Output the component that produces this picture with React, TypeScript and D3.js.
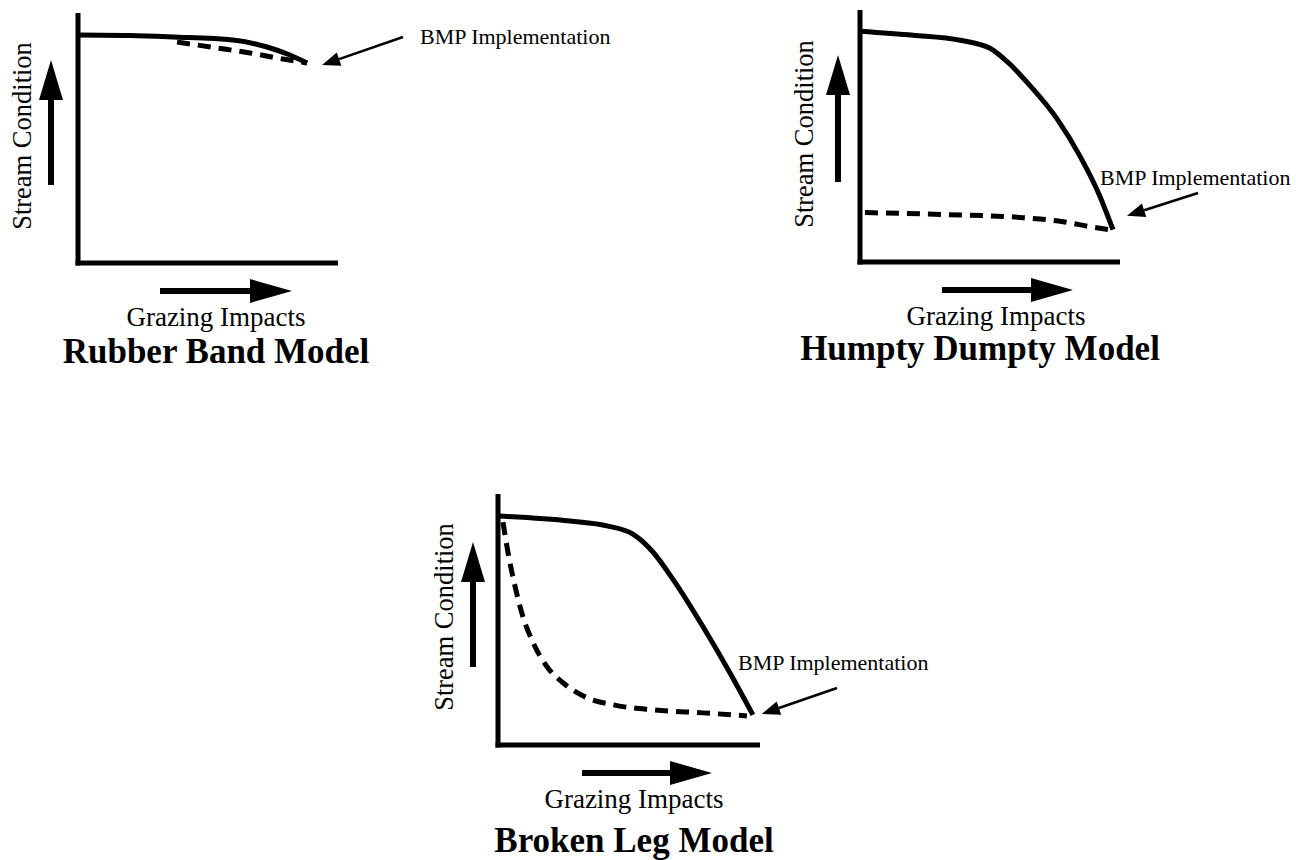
import React from "react";
import * as d3 from "d3";

// ---- text ----
const titles = ["Rubber Band Model", "Humpty Dumpty Model", "Broken Leg Model"];
const xAxisLabel = "Grazing Impacts";
const yAxisLabel = "Stream Condition";
const pointerLabel = "BMP Implementation";

// ---- data (x = grazing impacts 0-10, y = stream condition 0-10) ----
// Rubber Band
const rubberSolidX = [0, 2.0, 3.65, 5.96, 7.27, 8.15, 8.81];
const rubberSolidY = [9.12, 9.1, 9.04, 8.92, 8.64, 8.32, 8.0];
const rubberDashX = [3.81, 5.35, 6.62, 7.88, 8.81];
const rubberDashY = [8.84, 8.6, 8.4, 8.16, 8.0];
// Humpty Dumpty
const humptySolidX = [0, 2.04, 3.85, 5.0, 5.65, 6.54, 7.58, 8.46, 9.23, 9.73];
const humptySolidY = [9.16, 9.0, 8.8, 8.48, 7.96, 7.0, 5.68, 4.2, 2.6, 1.28];
const humptyDashX = [0.19, 3.35, 6.27, 7.81, 8.85, 9.62];
const humptyDashY = [1.96, 1.88, 1.76, 1.6, 1.4, 1.28];
// Broken Leg
const brokenSolidX = [0, 2.75, 4.2, 5.15, 5.92, 6.68, 7.82, 8.85, 9.73];
const brokenSolidY = [9.12, 8.92, 8.72, 8.4, 7.68, 6.6, 4.72, 2.88, 1.2];
const brokenDashX = [0.19, 0.38, 0.65, 0.95, 1.34, 1.87, 2.48, 3.4, 4.39, 5.92, 7.82, 9.5];
const brokenDashY = [8.88, 7.68, 6.32, 5.12, 4.08, 3.12, 2.48, 1.88, 1.6, 1.4, 1.28, 1.16];

const series = [
  { sx: rubberSolidX, sy: rubberSolidY, dx: rubberDashX, dy: rubberDashY },
  { sx: humptySolidX, sy: humptySolidY, dx: humptyDashX, dy: humptyDashY },
  { sx: brokenSolidX, sy: brokenSolidY, dx: brokenDashX, dy: brokenDashY },
];

// ---- layout ----
const layouts = [
  {
    x0: 78, x1: 338, y0: 263, y1: 13,
    upX: 51, upTail: 185, upTip: 60,
    rY: 291, rTail: 160, rTip: 292,
    yLabX: 31, yLabY: 136,
    xLabX: 216, xLabY: 326,
    titleX: 216, titleY: 363,
    ptTail: [403, 37], ptOff: [15, 2], ptText: [420, 44],
  },
  {
    x0: 860, x1: 1120, y0: 262, y1: 10,
    upX: 838, upTail: 182, upTip: 55,
    rY: 290, rTail: 942, rTip: 1073,
    yLabX: 813, yLabY: 134,
    xLabX: 996, xLabY: 325,
    titleX: 980, titleY: 360,
    ptTail: [1198, 193], ptOff: [14, -14], ptText: [1100, 185],
  },
  {
    x0: 498, x1: 760, y0: 745, y1: 494,
    upX: 473, upTail: 667, upTip: 542,
    rY: 773, rTail: 582, rTip: 712,
    yLabX: 453, yLabY: 617,
    xLabX: 634, xLabY: 808,
    titleX: 634, titleY: 852,
    ptTail: [837, 688], ptOff: [9, -1], ptText: [738, 670],
  },
];

const FONT = "'Liberation Serif', 'Times New Roman', serif";

function upArrowPath(x: number, tail: number, tip: number) {
  const sw = 3, hw = 12, hl = 40;
  return `M${x - sw},${tail}L${x - sw},${tip + hl}L${x - hw},${tip + hl}L${x},${tip}L${x + hw},${tip + hl}L${x + sw},${tip + hl}L${x + sw},${tail}Z`;
}
function rightArrowPath(y: number, tail: number, tip: number) {
  const sw = 3, hw = 12, hl = 42;
  return `M${tail},${y - sw}L${tip - hl},${y - sw}L${tip - hl},${y - hw}L${tip},${y}L${tip - hl},${y + hw}L${tip - hl},${y + sw}L${tail},${y + sw}Z`;
}

function Panel({ idx }: { idx: number }) {
  const L = layouts[idx];
  const S = series[idx];
  const xs = d3.scaleLinear().domain([0, 10]).range([L.x0, L.x1]);
  const ys = d3.scaleLinear().domain([0, 10]).range([L.y0, L.y1]);
  const line = d3
    .line<[number, number]>()
    .x((d) => xs(d[0]))
    .y((d) => ys(d[1]))
    .curve(d3.curveMonotoneX);
  const solid = S.sx.map((v, i) => [v, S.sy[i]] as [number, number]);
  const dash = S.dx.map((v, i) => [v, S.dy[i]] as [number, number]);
  const last = solid[solid.length - 1];
  const tipX = xs(last[0]) + L.ptOff[0];
  const tipY = ys(last[1]) + L.ptOff[1];
  const [tx, ty] = L.ptTail;
  const ang = Math.atan2(tipY - ty, tipX - tx);
  const hl = 18, hw = 7;
  const bx = tipX - hl * Math.cos(ang), by = tipY - hl * Math.sin(ang);
  const nx = -Math.sin(ang), ny = Math.cos(ang);
  const head = `M${tipX},${tipY}L${bx + nx * hw},${by + ny * hw}L${bx - nx * hw},${by - ny * hw}Z`;

  return (
    <g>
      {/* axes */}
      <line x1={xs(0)} y1={ys(0) + 2.5} x2={xs(0)} y2={ys(10)} stroke="#000" strokeWidth={5} />
      <line x1={xs(0) - 2.5} y1={ys(0)} x2={xs(10)} y2={ys(0)} stroke="#000" strokeWidth={5} />
      {/* curves */}
      <path d={line(dash) || ""} fill="none" stroke="#000" strokeWidth={5} strokeDasharray="13 8" />
      <path d={line(solid) || ""} fill="none" stroke="#000" strokeWidth={5} />
      {/* direction arrows */}
      <path d={upArrowPath(L.upX, L.upTail, L.upTip)} fill="#000" />
      <path d={rightArrowPath(L.rY, L.rTail, L.rTip)} fill="#000" />
      {/* pointer */}
      <line x1={tx} y1={ty} x2={bx} y2={by} stroke="#000" strokeWidth={2.5} />
      <path d={head} fill="#000" />
      <text x={L.ptText[0]} y={L.ptText[1]} fontFamily={FONT} fontSize={22} fill="#000">
        {pointerLabel}
      </text>
      {/* labels */}
      <text
        transform={`translate(${L.yLabX},${L.yLabY}) rotate(-90)`}
        textAnchor="middle"
        fontFamily={FONT}
        fontSize={26.5}
        fill="#000"
      >
        {yAxisLabel}
      </text>
      <text x={L.xLabX} y={L.xLabY} textAnchor="middle" fontFamily={FONT} fontSize={27} fill="#000">
        {xAxisLabel}
      </text>
      <text
        x={L.titleX}
        y={L.titleY}
        textAnchor="middle"
        fontFamily={FONT}
        fontSize={35}
        fontWeight="bold"
        fill="#000"
      >
        {titles[idx]}
      </text>
    </g>
  );
}

export default function App() {
  return (
    <svg
      width={1296}
      height={860}
      viewBox="0 0 1296 860"
      style={{ position: "absolute", left: 0, top: 0, background: "#fff" }}
    >
      <rect width={1296} height={860} fill="#fff" />
      {layouts.map((_, i) => (
        <Panel key={i} idx={i} />
      ))}
    </svg>
  );
}
